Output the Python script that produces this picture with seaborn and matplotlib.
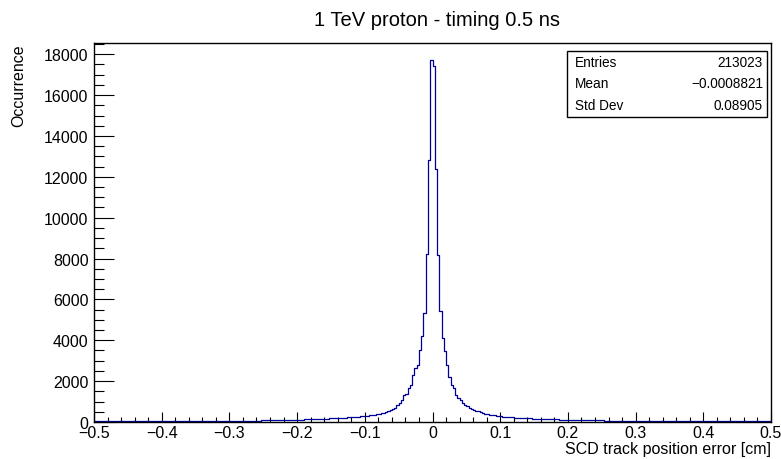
import numpy as np
import pandas as pd
import matplotlib
matplotlib.use("Agg")
import matplotlib.pyplot as plt
import seaborn as sns
from matplotlib.patches import Rectangle
from matplotlib.ticker import MultipleLocator

# histogram: 300 bins over [-0.5, 0.5]
x_lo, x_hi, n_bins = -0.5, 0.5, 300

# counts, listed from the bin next to 0 outwards
left_from_center = [
    17700, 12800, 8200, 5320, 4210, 3530, 2800, 2640, 2290, 1820,
    1660, 1370, 1320, 1090, 930, 850, 680, 630, 590, 550,
    500, 440, 420, 390, 370, 350, 340, 330, 300, 290,
    282, 270, 262, 251, 244, 236, 228, 221, 214, 206,
    201, 195, 188, 184, 179, 172, 168, 161, 157, 152,
    148, 143, 140, 134, 131, 127, 123, 119, 116, 112,
    109, 106, 104, 99, 97, 95, 92, 90, 87, 86,
    83, 82, 79, 78, 76, 74, 73, 71, 69, 68,
    67, 65, 64, 63, 62, 60, 61, 58, 57, 56,
    55, 55, 53, 52, 52, 50, 51, 49, 48, 48,
    47, 46, 46, 45, 44, 45, 43, 43, 42, 42,
    41, 41, 40, 40, 39, 40, 38, 38, 37, 38,
    37, 36, 36, 35, 36, 35, 34, 35, 34, 33,
    33, 34, 32, 33, 32, 31, 32, 31, 30, 31,
    30, 30, 29, 30, 29, 28, 29, 28, 28, 27,
]
right_from_center = [
    17400, 12400, 8150, 5420, 4100, 3460, 2780, 2200, 1810, 1660,
    1320, 1170, 1070, 930, 830, 760, 680, 630, 590, 560,
    540, 490, 440, 410, 390, 360, 340, 320, 300, 280,
    272, 263, 252, 246, 235, 229, 220, 213, 207, 199,
    194, 187, 183, 176, 171, 166, 160, 156, 151, 147,
    142, 139, 134, 131, 126, 123, 120, 116, 113, 110,
    107, 104, 101, 99, 96, 94, 91, 89, 87, 85,
    82, 81, 79, 77, 75, 74, 72, 70, 69, 67,
    66, 65, 63, 62, 61, 60, 59, 58, 57, 55,
    55, 54, 53, 52, 51, 51, 50, 49, 48, 47,
    47, 46, 45, 45, 44, 43, 43, 42, 42, 41,
    41, 40, 40, 39, 39, 38, 38, 37, 37, 36,
    36, 36, 35, 35, 34, 34, 34, 33, 33, 32,
    32, 32, 31, 31, 31, 30, 30, 30, 29, 29,
    29, 28, 28, 28, 27, 27, 27, 26, 26, 26,
]

stat_names = ["Entries", "Mean", "Std Dev"]
stat_values = ["213023", "\u22120.0008821", "0.08905"]

title = "1 TeV proton - timing 0.5 ns"
x_title = "SCD track position error [cm]"
y_title = "Occurrence"

edges = np.linspace(x_lo, x_hi, n_bins + 1)
counts = np.array(left_from_center[::-1] + right_from_center)
df = pd.DataFrame({"pos": 0.5 * (edges[:-1] + edges[1:]), "n": counts})

sns.set_style("white")
plt.rcParams["font.family"] = ["Liberation Sans", "DejaVu Sans"]
plt.rcParams.update({"text.color": "black", "axes.labelcolor": "black",
                     "xtick.color": "black", "ytick.color": "black"})

W, H = 781, 460
fig = plt.figure(figsize=(W / 100, H / 100), dpi=100)
ax = fig.add_axes([94 / W, 1 - 423 / H, (771 - 94) / W, (423 - 44) / H])

sns.histplot(data=df, x="pos", weights="n", bins=n_bins, binrange=(x_lo, x_hi),
             element="step", fill=False, color="#000099", linewidth=0.9, ax=ax)

ax.set_xlim(x_lo, x_hi)
ax.set_ylim(0, 18550)
ax.set_xlabel("")
ax.set_ylabel("")

ax.xaxis.set_major_locator(MultipleLocator(0.1))
ax.xaxis.set_minor_locator(MultipleLocator(0.02))
ax.yaxis.set_major_locator(MultipleLocator(2000))
ax.yaxis.set_minor_locator(MultipleLocator(500))
ax.tick_params(axis="x", which="major", direction="in", length=7.5, width=0.8,
               labelsize=11.5, pad=2, bottom=True, top=False)
ax.tick_params(axis="x", which="minor", direction="in", length=3.8, width=0.8,
               bottom=True, top=False)
ax.tick_params(axis="y", which="major", direction="in", length=14.5, width=0.8,
               labelsize=11.5, pad=4, left=True, right=False)
ax.tick_params(axis="y", which="minor", direction="in", length=7.2, width=0.8,
               left=True, right=False)
ax.xaxis.set_major_formatter(plt.FuncFormatter(
    lambda v, p: "0" if abs(v) < 1e-9 else f"{v:.1f}".replace("-", "\u2212")))
for s in ax.spines.values():
    s.set_color("black")
    s.set_linewidth(1.0)

fig.text(437 / W, 1 - 20 / H, title, ha="center", va="center", fontsize=14.5)
fig.text(771 / W, 1 - 450 / H, x_title, ha="right", va="center", fontsize=11.5)
fig.text(19 / W, 1 - 44 / H, y_title, ha="center", va="top", rotation=90, fontsize=11.5)

# stats box
bx0, bx1, by0, by1 = 567, 767, 52, 118
fig.patches.append(Rectangle((bx0 / W, 1 - by1 / H), (bx1 - bx0) / W, (by1 - by0) / H,
                             transform=fig.transFigure, facecolor="white",
                             edgecolor="black", linewidth=1.0))
for i, (nm, val) in enumerate(zip(stat_names, stat_values)):
    yy = 1 - (63 + i * 21.5) / H
    fig.text((bx0 + 8) / W, yy, nm, ha="left", va="center", fontsize=9.8)
    fig.text((bx1 - 4) / W, yy, val, ha="right", va="center", fontsize=9.8)

fig.savefig("out.png", dpi=100)
